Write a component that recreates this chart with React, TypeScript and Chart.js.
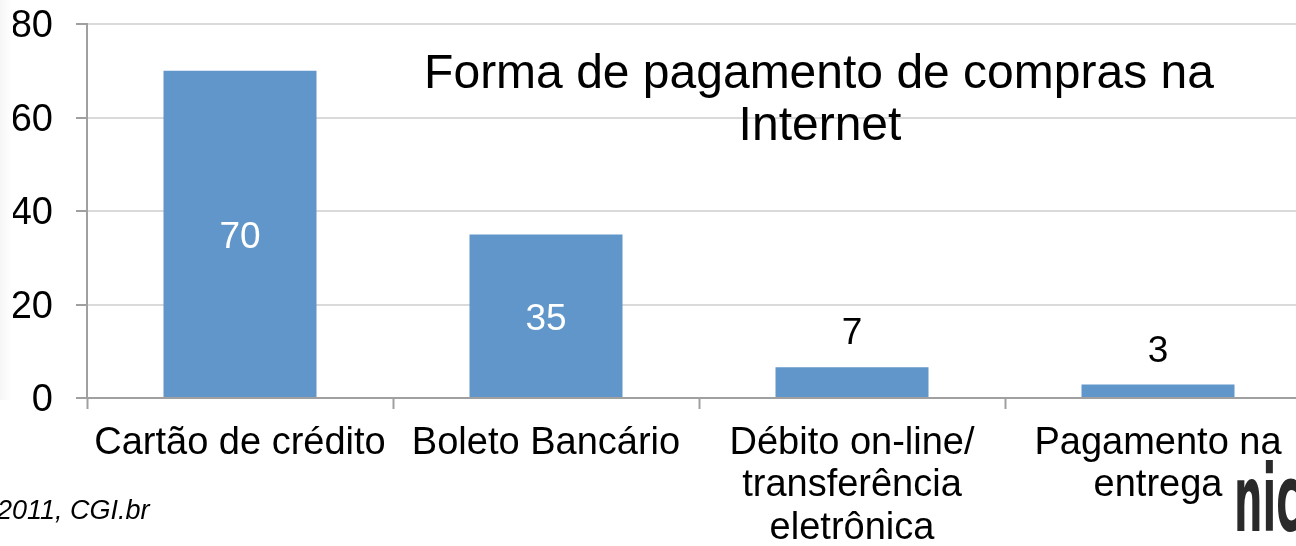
import React, { useEffect, useRef } from "react";
import { Chart, registerables } from "chart.js";

Chart.register(...registerables);

const categories: (string | string[])[] = [
  "Cartão de crédito",
  "Boleto Bancário",
  ["Débito on-line/", "transferência", "eletrônica"],
  ["Pagamento na", "entrega"],
];
const values = [70, 35, 6.6, 2.9];
const valueLabels = ["70", "35", "7", "3"];
const titleLines = ["Forma de pagamento de compras na", "Internet"];
const sourceText = "2011, CGI.br";
const logoText = "nic";

const FONT = "'Liberation Sans', Arial, Helvetica, sans-serif";
const BAR = "#6096c9";

const overlayPlugin = {
  id: "overlay",
  afterDatasetsDraw(chart: any) {
    const ctx = chart.ctx as CanvasRenderingContext2D;
    const meta = chart.getDatasetMeta(0);
    ctx.save();
    ctx.font = `37px ${FONT}`;
    ctx.textAlign = "center";
    ctx.textBaseline = "middle";
    meta.data.forEach((el: any, i: number) => {
      const h = el.base - el.y;
      if (h > 60) {
        ctx.fillStyle = "#ffffff";
        ctx.fillText(valueLabels[i], el.x, (el.y + el.base) / 2 + 4);
      } else {
        ctx.fillStyle = "#000000";
        ctx.fillText(valueLabels[i], el.x, el.y - 33);
      }
    });
    ctx.restore();
  },
  afterDraw(chart: any) {
    const ctx = chart.ctx as CanvasRenderingContext2D;
    ctx.save();
    ctx.fillStyle = "#000000";
    ctx.font = `48px ${FONT}`;
    ctx.textAlign = "center";
    ctx.textBaseline = "alphabetic";
    ctx.fillText(titleLines[0], 819, 88);
    ctx.fillText(titleLines[1], 820, 140);
    ctx.font = `italic 27px ${FONT}`;
    ctx.textAlign = "left";
    ctx.fillText(sourceText, -3, 519);
    ctx.fillStyle = "#2a2a2a";
    ctx.font = `bold 100px 'DejaVu Sans', sans-serif`;
    ctx.translate(1234, 531);
    ctx.scale(0.4, 0.92);
    ctx.fillText(logoText, 0, 0);
    ctx.restore();
  },
};

export default function App() {
  const ref = useRef<HTMLCanvasElement | null>(null);
  useEffect(() => {
    if (!ref.current) return;
    const chart = new Chart(ref.current, {
      type: "bar",
      data: {
        labels: categories,
        datasets: [
          {
            data: values,
            backgroundColor: BAR,
            borderWidth: 0,
            barPercentage: 0.5,
            categoryPercentage: 1,
          },
        ],
      },
      options: {
        responsive: false,
        animation: false,
        layout: { padding: { left: 13, top: 24, right: 9, bottom: 0 } },
        plugins: {
          legend: { display: false },
          tooltip: { enabled: false },
          title: { display: false },
        },
        scales: {
          x: {
            offset: true,
            afterFit: (scale: any) => {
              scale.height = 148;
              scale.paddingLeft = 0;
              scale.paddingRight = 0;
            },
            grid: {
              offset: true,
              drawOnChartArea: false,
              drawTicks: true,
              tickLength: 11,
              tickColor: "#a0a0a0",
              tickWidth: 2,
            },
            border: { color: "#a0a0a0", width: 2 },
            ticks: {
              color: "#000000",
              font: { family: FONT, size: 38, lineHeight: 1.12 },
              padding: 13,
              maxRotation: 0,
              autoSkip: false,
            },
          },
          y: {
            min: 0,
            max: 80,
            afterFit: (scale: any) => {
              scale.width = 74;
              scale.paddingTop = 0;
              scale.paddingBottom = 0;
            },
            ticks: {
              stepSize: 20,
              color: "#000000",
              font: { family: FONT, size: 38 },
              padding: 23,
              labelOffset: 3,
            },
            grid: {
              color: "#dadada",
              lineWidth: 2,
              tickColor: "#a0a0a0",
              tickLength: 11,
              tickWidth: 2,
            },
            border: { color: "#a0a0a0", width: 2 },
          },
        },
      },
      plugins: [overlayPlugin],
    });
    return () => chart.destroy();
  }, []);
  return (
    <div
      style={{
        position: "fixed",
        left: 0,
        top: 0,
        width: 1296,
        height: 546,
        overflow: "hidden",
        background: "#ffffff",
      }}
    >
      <canvas ref={ref} width={1320} height={546} style={{ display: "block" }} />
      <div
        style={{
          position: "absolute",
          left: 0,
          top: 0,
          width: 12,
          height: 400,
          background:
            "linear-gradient(to right, rgba(0,0,0,0.035), rgba(0,0,0,0))",
          pointerEvents: "none",
        }}
      />
    </div>
  );
}
